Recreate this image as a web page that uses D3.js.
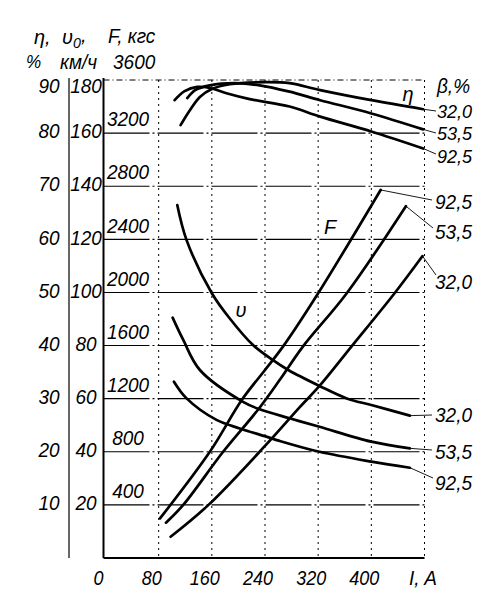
<!DOCTYPE html>
<html><head><meta charset="utf-8">
<script src="https://cdn.jsdelivr.net/npm/d3@7"></script>
<style>
html,body{margin:0;padding:0;background:#fff;}
svg text{font-family:'Liberation Sans','DejaVu Sans',sans-serif;font-style:italic;fill:#000;}
</style></head><body><svg id="c" width="478" height="604"></svg>
<script>
// ---------- data ----------
const currentTicks = [0, 80, 160, 240, 320, 400];
const gridCurrents = [80, 160, 240, 320, 400, 480];
const etaTicks = [10, 20, 30, 40, 50, 60, 70, 80, 90];
const speedTicks = [20, 40, 60, 80, 100, 120, 140, 160, 180];
const forceTicks = [400, 800, 1200, 1600, 2000, 2400, 2800, 3200];
const betaLabels = ["32,0", "53,5", "92,5"];

// efficiency η, %
const eta32_I = [113, 127, 142, 160, 187, 242, 277, 323, 400, 478];
const eta32   = [81.5, 84.3, 86.8, 88.3, 89.2, 89.6, 89.4, 88.1, 86.2, 84.5];
const eta53_I = [123, 135, 157, 195, 232, 277, 323, 400, 478];
const eta53   = [86.6, 88.1, 89.0, 89.4, 89.0, 87.8, 86.2, 83.7, 80.7];
const eta92_I = [104, 119, 138, 157, 182, 217, 277, 323, 400, 478];
const eta92   = [86.2, 87.9, 88.7, 88.5, 87.5, 86.4, 85.0, 83.1, 80.3, 77.1];

// tractive force F, кгс
const F32_I = [98, 155, 240, 293, 322, 370, 435, 477];
const F32   = [160, 400, 844, 1140, 1296, 1592, 1994, 2274];
const F53_I = [91, 117, 177, 230, 262, 297, 363, 452];
const F53   = [266, 400, 800, 1120, 1340, 1592, 1994, 2650];
const F92_I = [82, 157, 205, 240, 267, 320, 414];
const F92   = [298, 800, 1190, 1416, 1592, 1994, 2772];

// speed v0, км/ч
const v32_I = [108, 122, 160, 187, 222, 252, 275, 322, 363, 400, 458];
const v32   = [132.9, 119.7, 99.7, 90.2, 80.2, 74.5, 70.8, 64.8, 60.1, 57.6, 53.6];
const v53_I = [101, 117, 142, 207, 232, 277, 322, 400, 458];
const v53   = [90.5, 82.1, 70.8, 58.8, 56.0, 52.6, 49.4, 43.8, 41.3];
const v92_I = [103, 122, 167, 202, 242, 262, 322, 400, 458];
const v92   = [66.4, 60.1, 52.0, 48.8, 45.7, 44.1, 40.0, 36.3, 34.0];

// ---------- scales ----------
const x = d3.scaleLinear().domain([0, 480]).range([105.5, 424.5]);
const yV = d3.scaleLinear().domain([0, 180]).range([558, 80]);
const yEta = d3.scaleLinear().domain([0, 90]).range([558, 80]);
const yF = d3.scaleLinear().domain([0, 3600]).range([558, 80]);

const svg = d3.select('#c');
const g = svg.append('g');

function txt(px, py, s, anchor, size, sx) {
  return g.append('text')
    .attr('transform', `translate(${px},${py}) scale(${sx || 0.95},1)`)
    .attr('text-anchor', anchor || 'middle')
    .attr('dy', '0.36em')
    .attr('font-size', size || 20)
    .text(s);
}

// ---------- grid ----------
g.selectAll('.hg').data(speedTicks.slice(0, -1)).join('line')
  .attr('x1', x(0) - 2).attr('x2', x(480))
  .attr('y1', d => yV(d)).attr('y2', d => yV(d))
  .attr('stroke', '#000').attr('stroke-width', 1.1)
  .attr('stroke-dasharray', '46,3,2,3');
g.append('line').attr('x1', x(0) - 2).attr('x2', x(480))
  .attr('y1', yV(180)).attr('y2', yV(180))
  .attr('stroke', '#000').attr('stroke-width', 1).attr('stroke-dasharray', '6,3,1,3');
g.selectAll('.vg').data(gridCurrents).join('line')
  .attr('x1', d => x(d)).attr('x2', d => x(d))
  .attr('y1', yV(180)).attr('y2', yV(0))
  .attr('stroke', '#000').attr('stroke-width', 1)
  .attr('stroke-dasharray', '2,4');

// frame axes
g.append('line').attr('x1', x(0) - 2).attr('x2', x(0) - 2).attr('y1', yV(180) - 2).attr('y2', yV(0))
  .attr('stroke', '#000').attr('stroke-width', 2);
g.append('line').attr('x1', x(0) - 2).attr('x2', x(480)).attr('y1', yV(0)).attr('y2', yV(0))
  .attr('stroke', '#000').attr('stroke-width', 2);
g.append('line').attr('x1', 69).attr('x2', 69).attr('y1', yV(180) - 2).attr('y2', yV(0))
  .attr('stroke', '#000').attr('stroke-width', 1.2);

// ---------- tick labels ----------
etaTicks.forEach(d => txt(49, yEta(d) + (d === 90 ? 6 : -2), String(d), 'middle'));
speedTicks.forEach(d => txt(86, yV(d) + (d === 180 ? 6 : -2), String(d), 'middle'));
forceTicks.forEach(d => txt(128, yF(d) - 14, String(d), 'middle'));
currentTicks.forEach(d => txt(x(d) - 7, 578, String(d), 'middle', 20, 0.9));
txt(409, 578, 'I, A', 'start');

// header
txt(34, 36, 'η,', 'start', 21);
const vt = txt(62, 36, 'υ', 'start', 21);
vt.append('tspan').attr('font-size', 15).attr('dy', '0.3em').text('0');
vt.append('tspan').attr('dy', '-0.3em').text(',');
txt(108, 36, 'F, кгс', 'start', 20);
txt(26, 62, '%', 'start', 18);
txt(60, 62, 'км/ч', 'start', 20);
txt(113, 62, '3600', 'start', 20);

// ---------- curves ----------
const line = d3.line().curve(d3.curveCatmullRom.alpha(0.5));
function draw(Is, vals, yS) {
  const pts = Is.map((I, i) => [x(I), yS(vals[i])]);
  g.append('path').attr('d', line(pts)).attr('fill', 'none')
    .attr('stroke', '#000').attr('stroke-width', 2.7).attr('stroke-linecap', 'round');
  return pts[pts.length - 1];
}
const etaEnds = [draw(eta32_I, eta32, yEta), draw(eta53_I, eta53, yEta), draw(eta92_I, eta92, yEta)];
const fEnds = [draw(F32_I, F32, yF), draw(F53_I, F53, yF), draw(F92_I, F92, yF)];
const vEnds = [draw(v32_I, v32, yV), draw(v53_I, v53, yV), draw(v92_I, v92, yV)];

// ---------- curve labels with leaders ----------
function leader(p, lx, ly) {
  g.append('line').attr('x1', p[0]).attr('y1', p[1]).attr('x2', lx).attr('y2', ly)
    .attr('stroke', '#000').attr('stroke-width', 0.9);
}
const etaLabelY = [111, 133, 156];
etaEnds.forEach((p, i) => { leader(p, 436, etaLabelY[i] + (i === 2 ? -2 : 0)); txt(437, etaLabelY[i], betaLabels[i], 'start', 19); });
const fLabelY = [282, 232, 202];
const fLeadTo = [[436, 275], [433, 228], [432, 200]];
fEnds.forEach((p, i) => { leader(p, fLeadTo[i][0], fLeadTo[i][1]); txt(435, fLabelY[i], betaLabels[i], 'start'); });
const vLabelY = [415, 452, 483];
const vLeadTo = [[432, 415], [432, 450], [433, 478]];
vEnds.forEach((p, i) => { leader(p, vLeadTo[i][0], vLeadTo[i][1]); txt(435, vLabelY[i], betaLabels[i], 'start'); });

txt(437, 86, 'β,%', 'start', 20);
txt(408, 93, 'η', 'middle', 21);
txt(330, 226, 'F', 'middle', 21);
txt(241, 309, 'υ', 'middle', 21);
</script></body></html>
